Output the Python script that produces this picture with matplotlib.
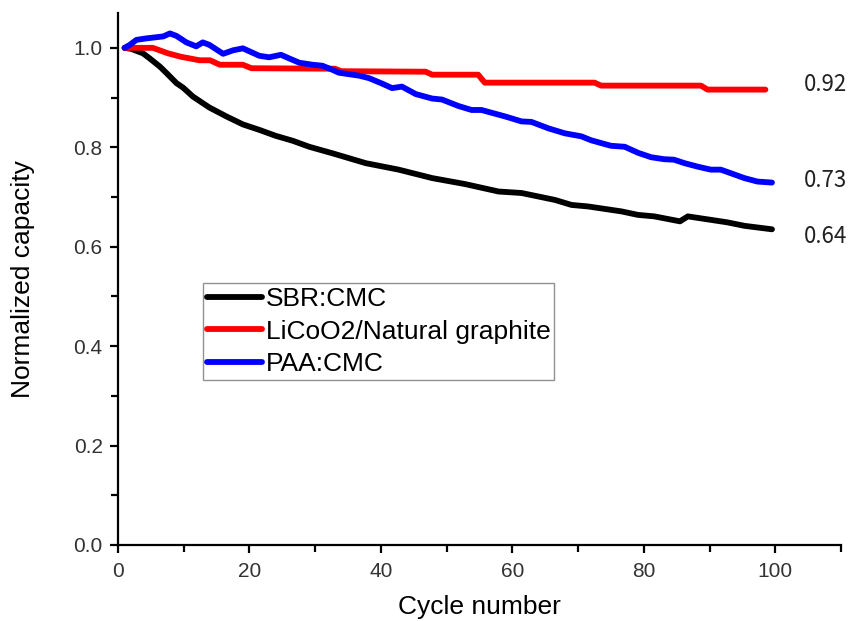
import matplotlib.pyplot as plt
from matplotlib.ticker import MultipleLocator

# SBR:CMC (black)
sbr_cycle = [1, 2, 3.8, 4.8, 6.4, 7.4, 8.9, 9.9, 11.4, 13.9, 16.5, 19, 21.5, 24, 26.6,
             29.1, 32.6, 37.7, 42.7, 47.8, 52.8, 57.9, 61.4, 66.5, 69, 71.5, 76.6,
             79.1, 81.6, 85.5, 86.7, 90.2, 92.7, 95.3, 99.5]
sbr_cap = [1.0, 0.998, 0.989, 0.979, 0.962, 0.949, 0.929, 0.920, 0.902, 0.880, 0.862,
           0.846, 0.835, 0.823, 0.813, 0.801, 0.788, 0.768, 0.755, 0.738, 0.726,
           0.711, 0.708, 0.694, 0.684, 0.681, 0.671, 0.664, 0.661, 0.651, 0.661,
           0.654, 0.649, 0.642, 0.635]

# LiCoO2/Natural graphite (red)
lco_cycle = [1, 5.3, 7.6, 9.6, 12.4, 14, 15.5, 19, 20.3, 33, 34, 46.8, 47.8, 54.8,
             55.8, 72.5, 73.5, 88.7, 89.7, 98.5]
lco_cap = [1.0, 1.0, 0.989, 0.982, 0.975, 0.975, 0.966, 0.966, 0.959, 0.958, 0.953,
           0.952, 0.946, 0.946, 0.930, 0.930, 0.924, 0.924, 0.916, 0.916]

# PAA:CMC (blue)
paa_cycle = [1, 1.8, 2.8, 4.3, 6.9, 7.9, 8.9, 10.4, 11.9, 12.9, 13.9, 16, 17.5, 19, 20,
             21.5, 23, 24.8, 26, 27.6, 29.6, 31.1, 32.6, 33.6, 36.7, 38.2, 40.2, 41.7,
             43.2, 45.3, 47.8, 49.3, 51.8, 53.8, 55.3, 58.9, 61.4, 62.9, 65.5, 68,
             70.5, 72, 75, 77.1, 79.1, 81.1, 83.1, 84.6, 86.2, 88.2, 90.2, 91.7, 93.2,
             95.3, 97.3, 99.5]
paa_cap = [1.0, 1.006, 1.016, 1.019, 1.023, 1.029, 1.024, 1.011, 1.003, 1.011, 1.006,
           0.988, 0.995, 0.999, 0.993, 0.984, 0.981, 0.986, 0.979, 0.970, 0.966, 0.964,
           0.956, 0.950, 0.944, 0.939, 0.928, 0.919, 0.922, 0.907, 0.898, 0.896, 0.883,
           0.875, 0.875, 0.862, 0.852, 0.851, 0.838, 0.828, 0.822, 0.814, 0.803, 0.801,
           0.789, 0.780, 0.776, 0.775, 0.768, 0.761, 0.755, 0.755, 0.748, 0.738, 0.731,
           0.729]

# end-of-test values written at the right
end_labels = ["0.92", "0.73", "0.64"]
end_label_y = [0.926, 0.734, 0.620]

plt.rcParams['font.family'] = ['Liberation Sans', 'DejaVu Sans']

fig = plt.figure(figsize=(8.5, 6.21), dpi=100)
ax = fig.add_axes([0.1388, 0.1224, 0.8506, 0.8566])

ax.plot(sbr_cycle, sbr_cap, color='black', lw=4.2, solid_capstyle='round', label='SBR:CMC')
ax.plot(lco_cycle, lco_cap, color='#ff0000', lw=4.2, solid_capstyle='round',
        label='LiCoO2/Natural graphite')
ax.plot(paa_cycle, paa_cap, color='#0000ff', lw=4.2, solid_capstyle='round', label='PAA:CMC')

for txt, yv in zip(end_labels, end_label_y):
    ax.text(104.4, yv, txt, fontsize=16, va='center', ha='left', color='#222222',
            family=['Noto Sans CJK KR', 'DejaVu Sans'], clip_on=False)

ax.set_xlim(0, 110)
ax.set_ylim(0, 1.07)
ax.xaxis.set_major_locator(MultipleLocator(20))
ax.xaxis.set_minor_locator(MultipleLocator(10))
ax.yaxis.set_major_locator(MultipleLocator(0.2))
ax.yaxis.set_minor_locator(MultipleLocator(0.1))
ax.yaxis.set_major_formatter(lambda v, p: f"{v:.1f}")

for s in ['top', 'right']:
    ax.spines[s].set_visible(False)
for s in ['left', 'bottom']:
    ax.spines[s].set_linewidth(1.6)

ax.tick_params(which='major', direction='out', length=6, width=1.6, labelsize=15,
               labelcolor='#333333')
ax.tick_params(which='minor', direction='out', length=5, width=1.6)
ax.tick_params(axis='y', pad=5)
ax.tick_params(axis='x', pad=6)

ax.set_xlabel('Cycle number', fontsize=19, labelpad=10)
ax.set_ylabel('Normalized capacity', fontsize=19, labelpad=28)

leg = ax.legend(loc='upper left', bbox_to_anchor=(0.1176, 0.4925), fontsize=19,
                frameon=True, fancybox=False, borderpad=0.15, borderaxespad=0,
                handlelength=2.1, handletextpad=0.12, labelspacing=0.33)
leg.get_frame().set_edgecolor('#777777')
leg.get_frame().set_linewidth(1.0)

fig.savefig('out.png', dpi=100)
